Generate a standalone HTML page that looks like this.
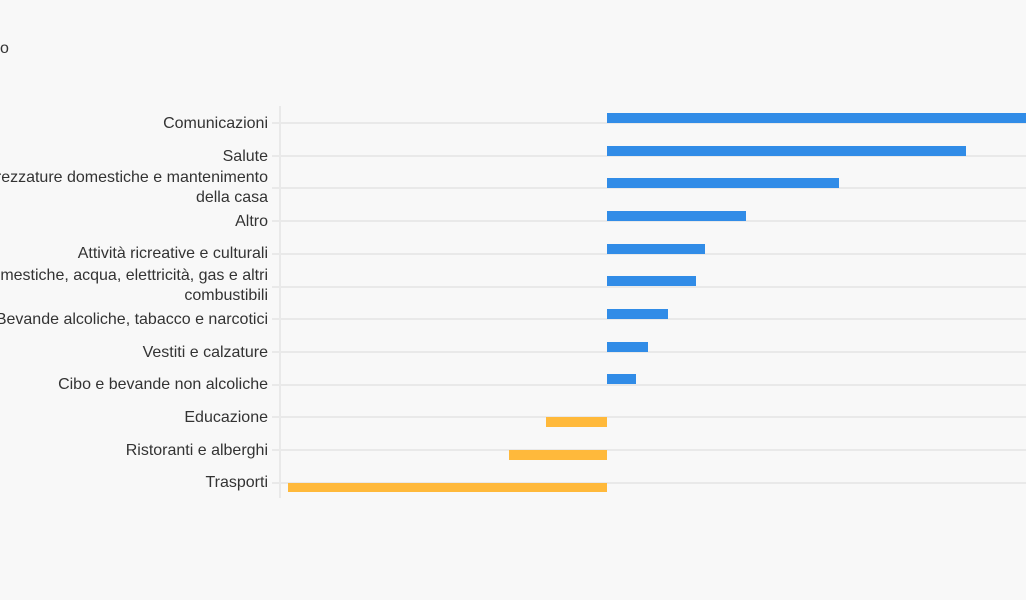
<!DOCTYPE html>
<html><head><meta charset="utf-8"><style>
html,body{margin:0;padding:0;background:#f8f8f8;}
svg{display:block;}
text{font-family:"Liberation Sans Narrow","Liberation Sans",sans-serif;font-size:16px;fill:#333;}
</style></head><body>
<svg width="1026" height="600" viewBox="0 0 1026 600">
<rect width="1026" height="600" fill="#f8f8f8"/>
<text x="0" y="53">o</text>
<g stroke="#e9e9e9" stroke-width="2">
<line x1="280" y1="106" x2="280" y2="498"/>
<line x1="272" y1="123" x2="1026" y2="123"/>
<line x1="272" y1="156" x2="1026" y2="156"/>
<line x1="272" y1="188" x2="1026" y2="188"/>
<line x1="272" y1="221" x2="1026" y2="221"/>
<line x1="272" y1="254" x2="1026" y2="254"/>
<line x1="272" y1="287" x2="1026" y2="287"/>
<line x1="272" y1="319" x2="1026" y2="319"/>
<line x1="272" y1="352" x2="1026" y2="352"/>
<line x1="272" y1="385" x2="1026" y2="385"/>
<line x1="272" y1="417" x2="1026" y2="417"/>
<line x1="272" y1="450" x2="1026" y2="450"/>
<line x1="272" y1="483" x2="1026" y2="483"/>
</g>
<g fill="#318ce7">
<rect x="607" y="113" width="419" height="10"/>
<rect x="607" y="146" width="359" height="10"/>
<rect x="607" y="178" width="232" height="10"/>
<rect x="607" y="211" width="139" height="10"/>
<rect x="607" y="244" width="98" height="10"/>
<rect x="607" y="276" width="89" height="10"/>
<rect x="607" y="309" width="61" height="10"/>
<rect x="607" y="342" width="41" height="10"/>
<rect x="607" y="374" width="29" height="10"/>
</g>
<g fill="#ffb93b">
<rect x="546" y="417" width="61" height="10"/>
<rect x="509" y="450" width="98" height="10"/>
<rect x="288" y="483" width="319" height="9"/>
</g>
<g text-anchor="end">
<text x="268" y="128">Comunicazioni</text>
<text x="268" y="161">Salute</text>
<text x="268" y="182">Mobili, attrezzature domestiche e mantenimento</text>
<text x="268" y="202">della casa</text>
<text x="268" y="226">Altro</text>
<text x="268" y="258">Attività ricreative e culturali</text>
<text x="268" y="280">Abitazione, spese domestiche, acqua, elettricità, gas e altri</text>
<text x="268" y="300">combustibili</text>
<text x="268" y="324">Bevande alcoliche, tabacco e narcotici</text>
<text x="268" y="357">Vestiti e calzature</text>
<text x="268" y="389">Cibo e bevande non alcoliche</text>
<text x="268" y="422">Educazione</text>
<text x="268" y="455">Ristoranti e alberghi</text>
<text x="268" y="487">Trasporti</text>
</g>
</svg>
</body></html>
